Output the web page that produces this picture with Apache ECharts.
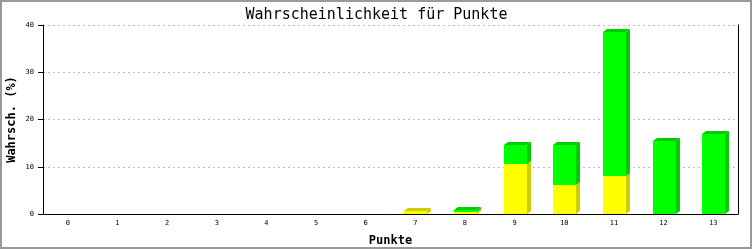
<!DOCTYPE html>
<html><head><meta charset="utf-8">
<script src="https://cdn.jsdelivr.net/npm/echarts@6/dist/echarts.min.js"></script>
<style>html,body{margin:0;padding:0;background:#fff}#c{width:753px;height:250px}</style>
</head><body><div id="c"></div>
<script>
const categories = ['0','1','2','3','4','5','6','7','8','9','10','11','12','13'];
const yellowValues = [0,0,0,0,0,0,0,0.6,0.4,10.6,6.1,8.1,0,0];
const greenValues  = [0,0,0,0,0,0,0,0,0.4,3.9,8.4,30.5,15.5,17.0];
const yTicks = [0,10,20,30,40];

const chart = echarts.init(document.getElementById('c'), null, {renderer:'canvas'});
const DX = 4, DY = 3, BW = 23;
const colors = {
  yellow: {front:'#ffff00', dark:'#cccc00'},
  green: {front:'#00ff00', dark:'#00cc00'}
};
function seg(api, x, v0, v1, col, withTop) {
  const p0 = api.coord([x, v0]);
  const p1 = api.coord([x, v1]);
  const cx = Math.round(p0[0]);
  const l = cx - Math.floor(BW/2), r = l + BW;
  const b = Math.round(p0[1]), t = Math.round(p1[1]);
  const els = [];
  if (b - t <= 0) return els;
  els.push({type:'rect', shape:{x:l, y:t, width:BW, height:b-t}, style:{fill:col.front}});
  els.push({type:'polygon', shape:{points:[[r,b],[r,t],[r+DX,t-DY],[r+DX,b-DY]]}, style:{fill:col.dark}});
  if (withTop) {
    els.push({type:'polygon', shape:{points:[[l,t],[l+DX,t-DY],[r+DX,t-DY],[r,t]]}, style:{fill:col.dark}});
  }
  return els;
}
const data = categories.map((c,i)=>[i, yellowValues[i], greenValues[i]]);
const option = {
  animation:false,
  textStyle:{fontFamily:'DejaVu Sans Mono'},
  title:{text:'Wahrscheinlichkeit für Punkte', left:'center', top:3,
    textStyle:{fontFamily:'DejaVu Sans Mono', fontSize:15, fontWeight:'normal', color:'#000'}},
  graphic:[{type:'rect', shape:{x:1,y:1,width:750,height:247}, style:{fill:'none', stroke:'#999', lineWidth:2}, z:-1}],
  grid:{left:43, right:15, top:25, bottom:36, containLabel:false, outerBoundsMode:'none'},
  xAxis:{type:'category', data:categories, boundaryGap:true,
    name:'Punkte', nameLocation:'middle', nameGap:21,
    nameTextStyle:{fontFamily:'DejaVu Sans Mono', fontWeight:'bold', fontSize:12, color:'#000'},
    axisLine:{lineStyle:{color:'#000', width:1}}, axisTick:{show:false},
    axisLabel:{fontFamily:'DejaVu Sans Mono', fontSize:7, color:'#000', margin:6}},
  yAxis:[{type:'value', min:0, max:40, interval:10,
    name:'Wahrsch. (%)', nameLocation:'middle', nameGap:25, nameRotate:90, nameMoveOverlap:false,
    nameTextStyle:{fontFamily:'DejaVu Sans Mono', fontWeight:'bold', fontSize:12, color:'#000'},
    axisLine:{show:true, lineStyle:{color:'#000'}}, axisTick:{show:true, length:5, lineStyle:{color:'#000'}},
    axisLabel:{fontFamily:'DejaVu Sans Mono', fontSize:7, color:'#000', margin:9,
      formatter:v=>yTicks.includes(v)?String(v):''},
    splitLine:{show:true, lineStyle:{color:'#bbb', type:[2,3]}}},
   {type:'value', min:0, max:40, interval:10, position:'right',
    axisLine:{show:true, lineStyle:{color:'#000'}}, axisTick:{show:false}, axisLabel:{show:false}, splitLine:{show:false}}],
  series:[{type:'custom', data:data, encode:{x:0, y:[1,2]},
    renderItem:function(params, api){
      const i = api.value(0), y = api.value(1), g = api.value(2);
      let els = [];
      els = els.concat(seg(api, i, 0, y, colors.yellow, g <= 0));
      els = els.concat(seg(api, i, y, y+g, colors.green, true));
      return {type:'group', children:els};
    }}]
};
chart.setOption(option);
</script></body></html>
